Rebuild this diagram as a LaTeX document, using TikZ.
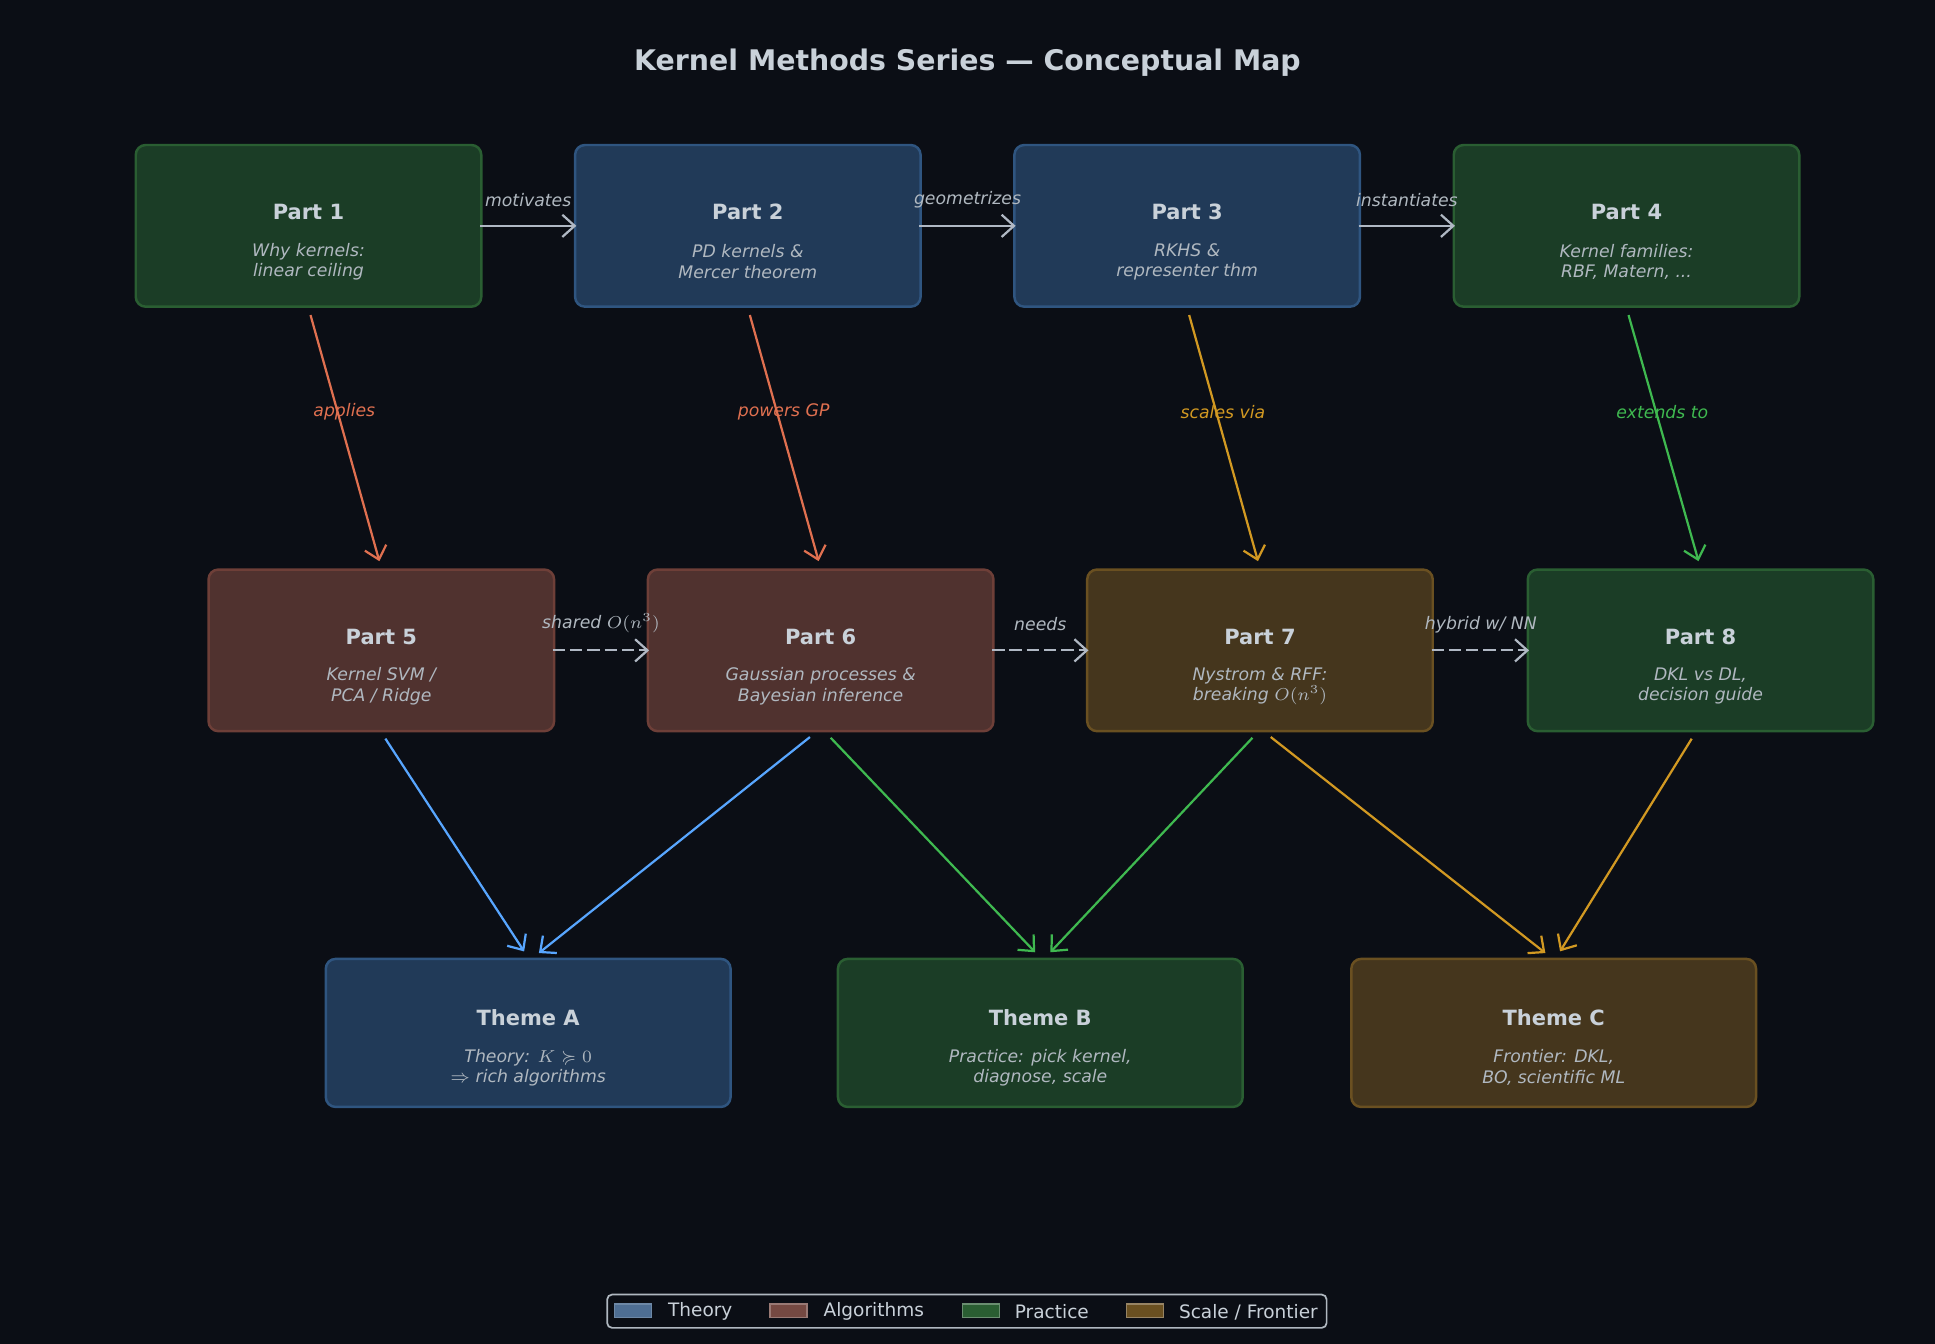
\documentclass[tikz,border=0pt]{standalone}
\usepackage{amssymb}
\usepackage{fontspec}
\setmainfont{DejaVu Sans}
\usetikzlibrary{arrows.meta}
\definecolor{bg}{HTML}{0B0E15}
\definecolor{gF}{HTML}{1B3D26}\definecolor{gD}{HTML}{2A5E32}
\definecolor{bF}{HTML}{213A58}\definecolor{bD}{HTML}{2F5580}
\definecolor{rF}{HTML}{50322F}\definecolor{rD}{HTML}{6E3F38}
\definecolor{yF}{HTML}{45361D}\definecolor{yD}{HTML}{6A5021}
\definecolor{txt}{HTML}{C9D1D9}\definecolor{sub}{HTML}{B0B8C0}
\definecolor{gr}{HTML}{B0B8C4}\definecolor{ra}{HTML}{E07050}
\definecolor{ya}{HTML}{D29922}\definecolor{ga}{HTML}{3FB950}\definecolor{ba}{HTML}{58A6FF}
\tikzset{
 box/.style={rounded corners=4pt,line width=1pt,minimum width=140pt,minimum height=65.5pt,inner sep=0pt},
 tbox/.style={box,minimum width=164pt,minimum height=60pt},
 G/.style={fill=gF,draw=gD},B/.style={fill=bF,draw=bD},R/.style={fill=rF,draw=rD},Y/.style={fill=yF,draw=yD},
 ttl/.style={text=txt,font=\bfseries\fontsize{8.5}{10}\selectfont},
 st/.style={text=sub,font=\itshape\fontsize{7}{8.2}\selectfont,align=center},
 lab/.style={font=\itshape\fontsize{7}{8}\selectfont},
 arr/.style={line width=0.9pt,-{Straight Barb[length=5pt,width=9pt]},shorten <=3pt,shorten >=3pt},
}
\begin{document}
\begin{tikzpicture}[x=0.5pt,y=-0.5pt]
\fill[bg] (0,0) rectangle (1568,1089);
\useasboundingbox (0,0) rectangle (1568,1089);
\node[text=txt,font=\bfseries\fontsize{11.5}{13}\selectfont] (title) at (784,51) {Kernel Methods Series — Conceptual Map};
% boxes
\node[box,G] (p1) at (250,183) {};
\node[box,B] (p2) at (606,183) {};
\node[box,B] (p3) at (962,183) {};
\node[box,G] (p4) at (1318,183) {};
\node[box,R] (p5) at (309,527) {};
\node[box,R] (p6) at (665,527) {};
\node[box,Y] (p7) at (1021,527) {};
\node[box,G] (p8) at (1378,527) {};
\node[tbox,B] (ta) at (428,837) {};
\node[tbox,G] (tb) at (843,837) {};
\node[tbox,Y] (tc) at (1259,837) {};
% texts
\node[ttl] (p1t) at (250,172) {Part 1}; \node[st] (p1s) at (250,212) {Why kernels:\\linear ceiling};
\node[ttl] (p2t) at (606,172) {Part 2}; \node[st] (p2s) at (606,212) {PD kernels \&\\Mercer theorem};
\node[ttl] (p3t) at (962,172) {Part 3}; \node[st] (p3s) at (962,212) {RKHS \&\\representer thm};
\node[ttl] (p4t) at (1318,172) {Part 4}; \node[st] (p4s) at (1318,212) {Kernel families:\\RBF, Matern, ...};
\node[ttl] (p5t) at (309,516) {Part 5}; \node[st] (p5s) at (309,556) {Kernel SVM /\\PCA / Ridge};
\node[ttl] (p6t) at (665,516) {Part 6}; \node[st] (p6s) at (665,556) {Gaussian processes \&\\Bayesian inference};
\node[ttl] (p7t) at (1021,516) {Part 7}; \node[st] (p7s) at (1021,556) {Nystrom \& RFF:\\breaking $O(n^3)$};
\node[ttl] (p8t) at (1378,516) {Part 8}; \node[st] (p8s) at (1378,556) {DKL vs DL,\\decision guide};
\node[ttl] (tat) at (428,825) {Theme A}; \node[st] (tas) at (428,865) {Theory: $K \succcurlyeq 0$\\$\Rightarrow$ rich algorithms};
\node[ttl] (tbt) at (843,825) {Theme B}; \node[st] (tbs) at (843,865) {Practice: pick kernel,\\diagnose, scale};
\node[ttl] (tct) at (1259,825) {Theme C}; \node[st] (tcs) at (1259,865) {Frontier: DKL,\\BO, scientific ML};
% horizontal arrows
\draw[arr,gr] ([xshift=-4]p1.east) -- ([xshift=4]p2.west);
\draw[arr,gr] ([xshift=-4]p2.east) -- ([xshift=4]p3.west);
\draw[arr,gr] ([xshift=-4]p3.east) -- ([xshift=4]p4.west);
\draw[arr,gr,dash pattern=on 5pt off 2pt] ([xshift=-4]p5.east) -- ([xshift=4]p6.west);
\draw[arr,gr,dash pattern=on 5pt off 2pt] ([xshift=-4]p6.east) -- ([xshift=4]p7.west);
\draw[arr,gr,dash pattern=on 5pt off 2pt] ([xshift=-4]p7.east) -- ([xshift=4]p8.west);
\node[lab,text=sub] (l1) at (428,162) {motivates};
\node[lab,text=sub] (l2) at (784,162) {geometrizes};
\node[lab,text=sub] (l3) at (1140,162) {instantiates};
\node[lab,text=sub] (l4) at (487,505) {shared $O(n^3)$};
\node[lab,text=sub] (l5) at (843,506) {needs};
\node[lab,text=sub] (l6) at (1200,506) {hybrid w/ NN};
% vertical
\draw[arr,ra] (p1.south) -- (p5.north);
\draw[arr,ra] (p2.south) -- (p6.north);
\draw[arr,ya] (p3.south) -- (p7.north);
\draw[arr,ga] (p4.south) -- (p8.north);
\node[lab,text=ra] (v1) at (279,334) {applies};
\node[lab,text=ra] (v2) at (635,334) {powers GP};
\node[lab,text=ya] (v3) at (991,334) {scales via};
\node[lab,text=ga] (v4) at (1347,334) {extends to};
% to themes
\draw[arr,ba] (p5.south) -- (ta.north);
\draw[arr,ba] ([xshift=-2]p6.south) -- ([xshift=2]ta.north);
\draw[arr,ga] ([xshift=2]p6.south) -- (tb.north);
\draw[arr,ga] ([xshift=-1]p7.south) -- ([xshift=2]tb.north);
\draw[arr,ya] ([xshift=2]p7.south) -- ([xshift=-1]tc.north);
\draw[arr,ya] ([xshift=-2]p8.south) -- ([xshift=1]tc.north);
% legend
\node[draw=sub,fill=bg,rounded corners=2pt,line width=0.7pt,minimum width=291.5pt,minimum height=13.5pt,inner sep=0pt] (leg) at (783.5,1062.5) {};
\tikzset{sw/.style={minimum width=15pt,minimum height=5.5pt,inner sep=0pt,line width=0.6pt},
 lt/.style={text=txt,font=\fontsize{7.5}{9}\selectfont,anchor=west,inner sep=0pt}}
\node[sw,fill=bD!85!white,draw=bD!70!white] (s1) at (513,1062) {}; \node[lt] (t1) at (541,1063) {Theory};
\node[sw,fill=rD!95!white,draw=rD!70!white] (s2) at (639,1062) {}; \node[lt] (t2) at (667,1063) {Algorithms};
\node[sw,fill=gD,draw=gD!70!white] (s3) at (795,1062) {}; \node[lt] (t3) at (822,1063) {Practice};
\node[sw,fill=yD,draw=yD!70!white] (s4) at (928,1062) {}; \node[lt] (t4) at (955,1063) {Scale / Frontier};
\end{tikzpicture}
\end{document}
